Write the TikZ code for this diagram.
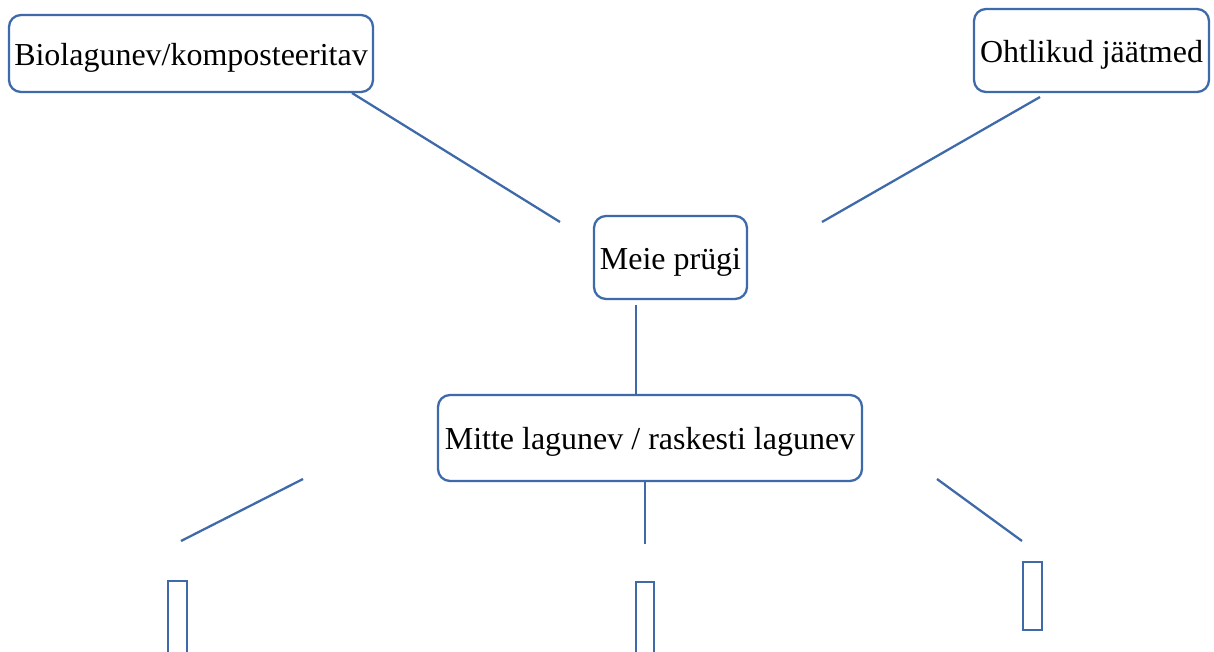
\documentclass[tikz,border=0pt]{standalone}
\usepackage{fontspec}
\setmainfont{Liberation Serif}
\usepackage{xcolor}
\definecolor{boxblue}{RGB}{62,106,170}

\begin{document}
\begin{tikzpicture}[x=0.02cm, y=-0.02cm,
        catbox/.style={draw=boxblue, line width=1.3pt, rounded corners=0.24cm, fill=white,
            inner sep=0pt, text height=13.6pt, text depth=0pt, align=center,
            font=\fontsize{18.2}{21}\selectfont},
        link/.style={draw=boxblue, line width=1.3pt},
        binbox/.style={draw=boxblue, line width=1.3pt}]
            \useasboundingbox (0,0) rectangle (1214,652);
            \clip (0,0) rectangle (1214,652);

            \node[catbox, minimum width=364*0.02cm, minimum height=77*0.02cm] (bio) at (191,53.5) {Biolagunev/komposteeritav};
            \node[catbox, minimum width=235*0.02cm, minimum height=83*0.02cm] (ohtlik) at (1091.5,50.5) {Ohtlikud jäätmed};
            \node[catbox, minimum width=153*0.02cm, minimum height=83*0.02cm] (prygi) at (670.5,257.5) {Meie prügi};
            \node[catbox, minimum width=424*0.02cm, minimum height=86*0.02cm] (mitte) at (650,438) {Mitte lagunev / raskesti lagunev};

            \coordinate (bioA) at (352,93);
            \coordinate (bioB) at (560,222);
            \coordinate (ohtA) at (1040,97);
            \coordinate (ohtB) at (822,222);
            \coordinate (midA) at (636,305);
            \coordinate (midB) at (636,395);
            \coordinate (lowA) at (645,481);
            \coordinate (lowB) at (645,544);
            \coordinate (leftA) at (303,479);
            \coordinate (leftB) at (181,541);
            \coordinate (rightA) at (937,479);
            \coordinate (rightB) at (1022,541);

            \draw[link] (bioA) -- (bioB);
            \draw[link] (ohtA) -- (ohtB);
            \draw[link] (midA) -- (midB);
            \draw[link] (lowA) -- (lowB);
            \draw[link] (leftA) -- (leftB);
            \draw[link] (rightA) -- (rightB);

            \draw[binbox] (168,581) rectangle (187,670);
            \draw[binbox] (636,582) rectangle (654,670);
            \draw[binbox] (1023,562) rectangle (1042,630);

        \end{tikzpicture}
\end{document}
